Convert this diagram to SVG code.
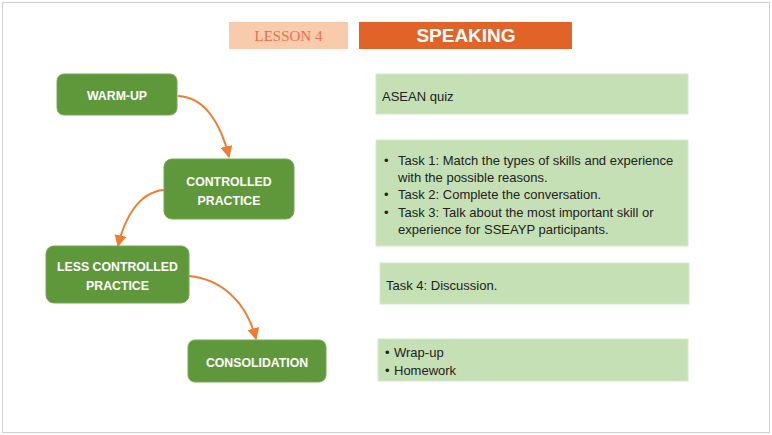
<svg xmlns="http://www.w3.org/2000/svg" width="772" height="435" viewBox="0 0 772 435">
<defs>
<marker id="ah" markerWidth="12" markerHeight="12" refX="9" refY="5" orient="auto" markerUnits="userSpaceOnUse" viewBox="0 0 10 10">
<path d="M0,0 L10,5 L0,10 Z" fill="#ed7d31"/>
</marker>
<style>
.node rect{fill:#5f973b;stroke:#76a957;stroke-width:1}
.node text{font-family:"Liberation Sans",Arial,sans-serif;font-size:12.3px;font-weight:bold;fill:#fff;text-anchor:middle}
.info rect{fill:#c5e0b4;stroke:#d6e9ca;stroke-width:1}
.info text{font-family:"Liberation Sans",Arial,sans-serif;font-size:13px;fill:#222}
.conn path{fill:none;stroke:#ed7d31;stroke-width:2;marker-end:url(#ah)}
</style>
</defs>
<rect x="0" y="0" width="772" height="435" fill="#fff"/>
<rect x="2.5" y="2.5" width="767" height="430" fill="#fff" stroke="#d0d0d0" stroke-width="1"/>
<g id="lesson">
<rect x="229" y="22" width="119" height="27" fill="#f8cbad"/>
<text x="288.5" y="41" font-family="'Liberation Serif','Times New Roman',serif" font-size="15" fill="#e8704d" text-anchor="middle">LESSON 4</text>
</g>
<g id="speaking">
<rect x="359" y="22" width="213" height="27" fill="#e26328"/>
<text x="466" y="42" font-family="'Liberation Sans',Arial,sans-serif" font-size="19" font-weight="bold" fill="#fff" text-anchor="middle">SPEAKING</text>
</g>
<g class="conn" id="connectors">
<path d="M178,96 C205,97 221,124 229,157"/>
<path d="M164,190 C138,192 124,220 118,246"/>
<path d="M189,276 C220,279 246,300 256,339"/>
</g>
<g class="node" id="warmup">
<rect x="57" y="74" width="120" height="41" rx="7"/>
<text x="117" y="100">WARM-UP</text>
</g>
<g class="node" id="controlled">
<rect x="164" y="159" width="130" height="60" rx="8"/>
<text x="229" y="186">CONTROLLED</text>
<text x="229" y="205">PRACTICE</text>
</g>
<g class="node" id="lesscontrolled">
<rect x="46" y="246" width="143" height="57" rx="8"/>
<text x="117.5" y="271">LESS CONTROLLED</text>
<text x="117.5" y="290">PRACTICE</text>
</g>
<g class="node" id="consolidation">
<rect x="188" y="340" width="138" height="42" rx="7"/>
<text x="257" y="367">CONSOLIDATION</text>
</g>
<g class="info" id="info1">
<rect x="376" y="74" width="312" height="40"/>
<text x="382" y="101">ASEAN quiz</text>
</g>
<g class="info" id="info2">
<rect x="376" y="140" width="312" height="106"/>
<text x="384" y="165">•</text><text x="398" y="165">Task 1: Match the types of skills and experience</text>
<text x="398" y="182">with the possible reasons.</text>
<text x="384" y="199">•</text><text x="398" y="199">Task 2: Complete the conversation.</text>
<text x="384" y="217">•</text><text x="398" y="217">Task 3: Talk about the most important skill or</text>
<text x="398" y="234">experience for SSEAYP participants.</text>
</g>
<g class="info" id="info3">
<rect x="380" y="263" width="309" height="41"/>
<text x="386" y="290">Task 4: Discussion.</text>
</g>
<g class="info" id="info4">
<rect x="378" y="339" width="310" height="42"/>
<text x="385" y="357">•</text><text x="394" y="357">Wrap-up</text>
<text x="385" y="375">•</text><text x="394" y="375">Homework</text>
</g>
</svg>
